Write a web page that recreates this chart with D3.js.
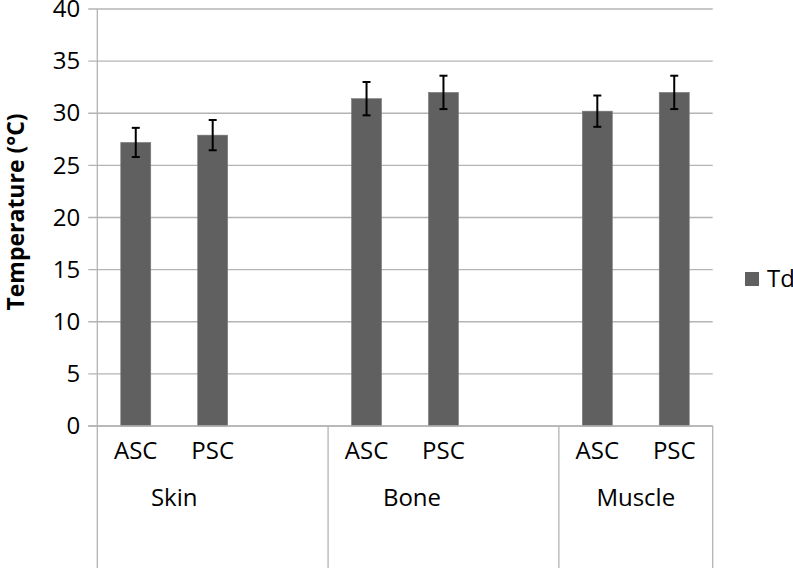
<!DOCTYPE html>
<html><head><meta charset="utf-8">
<script src="https://cdn.jsdelivr.net/npm/d3@7"></script>
<style>body{margin:0;background:#fff}svg{display:block}text{font-family:"Open Sans",sans-serif;fill:#000}</style>
</head><body><svg id="c" width="793" height="568"></svg>
<script>
const groups = ["Skin", "Bone", "Muscle"];
const subcats = ["ASC", "PSC"];
const values = [27.2, 27.9, 31.4, 32.0, 30.2, 32.0];
const errors = [1.4, 1.45, 1.6, 1.6, 1.5, 1.6];
const yTicks = [0, 5, 10, 15, 20, 25, 30, 35, 40];
const seriesName = "Td";
const yTitle = "Temperature (°C)";

(function () {
const svg = d3.select("#c");
const mL = 97.3, mR = 712.7, mT = 9, mB = 426, H = 568;

const slots = [];
const rows = [];
groups.forEach((g, gi) => {
  subcats.forEach((s, si) => {
    const key = g + "|" + s;
    slots.push(key);
    rows.push({group: g, sub: s, key, value: values[gi * subcats.length + si], err: errors[gi * subcats.length + si]});
  });
  if (gi < groups.length - 1) slots.push(g + "|_blank");
});

const x = d3.scaleBand().domain(slots).range([mL, mR]).padding(0);
const y = d3.scaleLinear().domain([0, 40]).range([mB, mT]);
const bw = x.bandwidth() * 0.39;
const gridColor = "#b4b4b4";

svg.append("g").selectAll("line").data(yTicks).join("line")
  .attr("x1", mL - 9).attr("x2", mR)
  .attr("y1", d => y(d)).attr("y2", d => y(d))
  .attr("stroke", gridColor).attr("stroke-width", 1.3);

const yAxis = svg.append("g").attr("transform", `translate(${mL},0)`)
  .call(d3.axisLeft(y).tickValues(yTicks).tickSize(0).tickPadding(17));
yAxis.select(".domain").remove();
yAxis.selectAll("text").style("font-family", "'Open Sans',sans-serif").style("font-size", "24px").attr("fill", "#000");
svg.append("line").attr("x1", mL).attr("x2", mL).attr("y1", mT).attr("y2", H)
  .attr("stroke", gridColor).attr("stroke-width", 1.3);

groups.forEach((g) => {
  const keys = slots.filter(k => k.startsWith(g + "|"));
  const x1 = x(keys[keys.length - 1]) + x.bandwidth();
  svg.append("line").attr("x1", x1).attr("x2", x1).attr("y1", mB).attr("y2", H)
    .attr("stroke", gridColor).attr("stroke-width", 1.3);
  const subKeys = subcats.map(s => g + "|" + s);
  const cx = (x(subKeys[0]) + x(subKeys[subKeys.length - 1]) + x.bandwidth()) / 2;
  const dx = g === "Bone" ? 7 : 0;
  svg.append("text").attr("x", cx + dx).attr("y", 506).attr("text-anchor", "middle")
    .style("font-size", "24px").text(g);
});

svg.append("g").selectAll("text").data(rows).join("text")
  .attr("x", d => x(d.key) + x.bandwidth() / 2).attr("y", 459)
  .attr("text-anchor", "middle").style("font-size", "24px").text(d => d.sub);

svg.append("g").selectAll("rect").data(rows).join("rect")
  .attr("x", d => x(d.key) + x.bandwidth() / 2 - bw / 2)
  .attr("width", bw)
  .attr("y", d => y(d.value))
  .attr("height", d => y(0) - y(d.value))
  .attr("fill", "#606060").attr("stroke", "#7a7a7a").attr("stroke-width", 0.6);

svg.append("line").attr("x1", mL - 9).attr("x2", mR).attr("y1", mB).attr("y2", mB)
  .attr("stroke", gridColor).attr("stroke-width", 1.3);

const eb = svg.append("g").attr("stroke", "#000").attr("stroke-width", 2);
rows.forEach(d => {
  const cx = x(d.key) + x.bandwidth() / 2;
  eb.append("line").attr("x1", cx).attr("x2", cx).attr("y1", y(d.value + d.err)).attr("y2", y(d.value - d.err));
  [d.value + d.err, d.value - d.err].forEach(v => {
    eb.append("line").attr("x1", cx - 4).attr("x2", cx + 4).attr("y1", y(v)).attr("y2", y(v));
  });
});

svg.append("text").attr("transform", `translate(24,212) rotate(-90)`)
  .attr("text-anchor", "middle").style("font-size", "23px").style("font-weight", "bold").text(yTitle);

svg.append("rect").attr("x", 745).attr("y", 272).attr("width", 14).attr("height", 14).attr("fill", "#606060");
svg.append("text").attr("x", 767).attr("y", 287).style("font-size", "24px").text(seriesName);
})();
</script></body></html>
